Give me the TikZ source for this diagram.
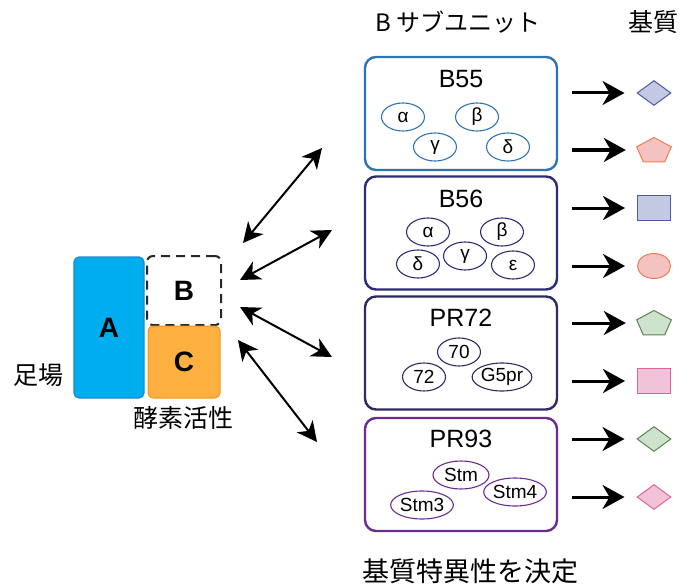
\documentclass[tikz,border=0pt]{standalone}
\usepackage{fontspec}
\setmainfont{Liberation Sans}
\newfontfamily\jp{Noto Sans CJK JP}
\usetikzlibrary{arrows.meta,shapes.geometric}

\definecolor{cyanA}{HTML}{00AEEF}
\definecolor{cyanAd}{HTML}{1B8CCB}
\definecolor{orangeC}{HTML}{FBB040}
\definecolor{orangeCd}{HTML}{F7941D}
\definecolor{bluebox}{HTML}{2E74B5}
\definecolor{navybox}{HTML}{2B2D77}
\definecolor{darkbox}{HTML}{2E2B5F}
\definecolor{purplebox}{HTML}{6B2C91}
\definecolor{lavfill}{HTML}{C3C8E3}
\definecolor{lavdraw}{HTML}{4F58A3}
\definecolor{salfill}{HTML}{F4C2C0}
\definecolor{saldraw}{HTML}{F07E4E}
\definecolor{grnfill}{HTML}{CDE3CB}
\definecolor{grndraw}{HTML}{5A8352}
\definecolor{pnkfill}{HTML}{F0C3D8}
\definecolor{pnkdraw}{HTML}{E2629C}

\tikzset{
  subbox/.style={draw=#1, line width=2.4pt, rounded corners=11pt, minimum width=192pt, minimum height=113pt},
  subtitle/.style={font=\fontsize{25}{29}\selectfont},
  unit/.style={draw=#1, line width=1.1pt, ellipse, minimum width=43pt, minimum height=28pt, inner sep=0pt, font=\fontsize{19}{21}\selectfont},
  wideunit/.style={unit=#1, minimum width=56pt},
  linkarrow/.style={line width=2pt, {Stealth[length=20pt,width=20pt,inset=6pt]}-{Stealth[length=20pt,width=20pt,inset=6pt]}},
  outarrow/.style={line width=3pt, -{Stealth[length=22pt,width=24pt,inset=7pt]}, shorten >=12pt},
  subst/.style={line width=1pt, inner sep=0pt},
  pentagon/.style={subst, regular polygon, regular polygon sides=5, minimum size=27pt, xscale=1.35, transform shape},
  jplabel/.style={font=\jp\fontsize{25}{29}\selectfont},
  letter/.style={font=\bfseries\fontsize{28}{32}\selectfont},
}

\begin{document}
\begin{tikzpicture}[x=1pt,y=-1pt]
\useasboundingbox (0,0) rectangle (681,586);

% holoenzyme: scaffold A, regulatory B, catalytic C
\node[draw=cyanAd, fill=cyanA, line width=1.2pt, rounded corners=5pt,
      minimum width=70pt, minimum height=141pt, letter] (A) at (109,327.5) {A};
\node[draw=black!85, line width=2pt, dash pattern=on 9pt off 6pt, rounded corners=6pt,
      minimum width=74pt, minimum height=69pt, letter] (B) at (184,290.5) {B};
\node[draw=orangeCd, fill=orangeC, line width=1pt, rounded corners=5pt,
      minimum width=72pt, minimum height=72pt, letter] (C) at (184,362) {C};
\node[jplabel] (scaf) at (38,375) {足場};
\node[jplabel] (cat) at (183,418) {酵素活性};

% headings
\node[jplabel, font=\jp\fontsize{24}{28}\selectfont] (hB) at (458,22) {B サブユニット};
\node[jplabel] (hS) at (653,22) {基質};
\node[jplabel, font=\jp\fontsize{27}{31}\selectfont] (hF) at (470,571) {基質特異性を決定};

% B subunit families
\node[subbox=bluebox] (b55) at (461,113.5) {};
\node[subtitle] (t55) at (461,79) {B55};
\node[unit=bluebox] (b55a) at (403,117) {α};
\node[unit=bluebox] (b55b) at (477,117) {β};
\node[unit=bluebox] (b55g) at (435,147) {γ};
\node[unit=bluebox] (b55d) at (508,147) {δ};

\node[subbox=navybox] (b56) at (461,233) {};
\node[subtitle] (t56) at (461,199) {B56};
\node[unit=navybox] (b56a) at (428,232) {α};
\node[unit=navybox] (b56b) at (502,232) {β};
\node[unit=navybox] (b56g) at (465,256) {γ};
\node[unit=navybox] (b56d) at (418,264) {δ};
\node[unit=navybox] (b56e) at (513,265) {ε};

\node[subbox=darkbox] (pr72) at (461,353) {};
\node[subtitle] (t72) at (461,318) {PR72};
\node[unit=darkbox] (u70) at (459,352) {70};
\node[unit=darkbox] (u72) at (424,377) {72};
\node[wideunit=darkbox] (ug5) at (502,377) {G5pr};

\node[subbox=purplebox] (pr93) at (461,474.5) {};
\node[subtitle] (t93) at (461,439) {PR93};
\node[wideunit=purplebox] (stm) at (461,475) {Stm};
\node[wideunit=purplebox] (stm3) at (422,505) {Stm3};
\node[wideunit=purplebox] (stm4) at (515,492) {Stm4};

% B binds interchangeable subunits
\coordinate (l1) at (243,243); \coordinate (r1) at (322,148);
\coordinate (l2) at (240,280); \coordinate (r2) at (332,230);
\coordinate (l3) at (240,307); \coordinate (r3) at (332,357);
\coordinate (l4) at (238,340); \coordinate (r4) at (317,442);
\draw[linkarrow] (l1) -- (r1);
\draw[linkarrow] (l2) -- (r2);
\draw[linkarrow] (l3) -- (r3);
\draw[linkarrow] (l4) -- (r4);

% substrates
\node[subst, diamond, draw=lavdraw, fill=lavfill, minimum width=34pt, minimum height=25pt] (s1) at (654,93) {};
\node[pentagon, draw=saldraw, fill=salfill] (s2) at (654,151) {};
\node[subst, rectangle, draw=lavdraw, fill=lavfill, minimum width=33pt, minimum height=25pt] (s3) at (654,208) {};
\node[subst, ellipse, draw=saldraw, fill=salfill, minimum width=33pt, minimum height=25pt] (s4) at (654,266) {};
\node[pentagon, draw=grndraw, fill=grnfill] (s5) at (654,324) {};
\node[subst, rectangle, draw=pnkdraw, fill=pnkfill, minimum width=33pt, minimum height=25pt] (s6) at (654,381) {};
\node[subst, diamond, draw=grndraw, fill=grnfill, minimum width=34pt, minimum height=25pt] (s7) at (654,439) {};
\node[subst, diamond, draw=pnkdraw, fill=pnkfill, minimum width=34pt, minimum height=25pt] (s8) at (654,497) {};

\foreach \i/\y in {1/93,2/150,3/208,4/266,5/323,6/381,7/439,8/497}{
  \coordinate (o\i) at (572,\y);
  \draw[outarrow] (o\i) -- (s\i.west |- o\i);
}
\end{tikzpicture}
\end{document}
